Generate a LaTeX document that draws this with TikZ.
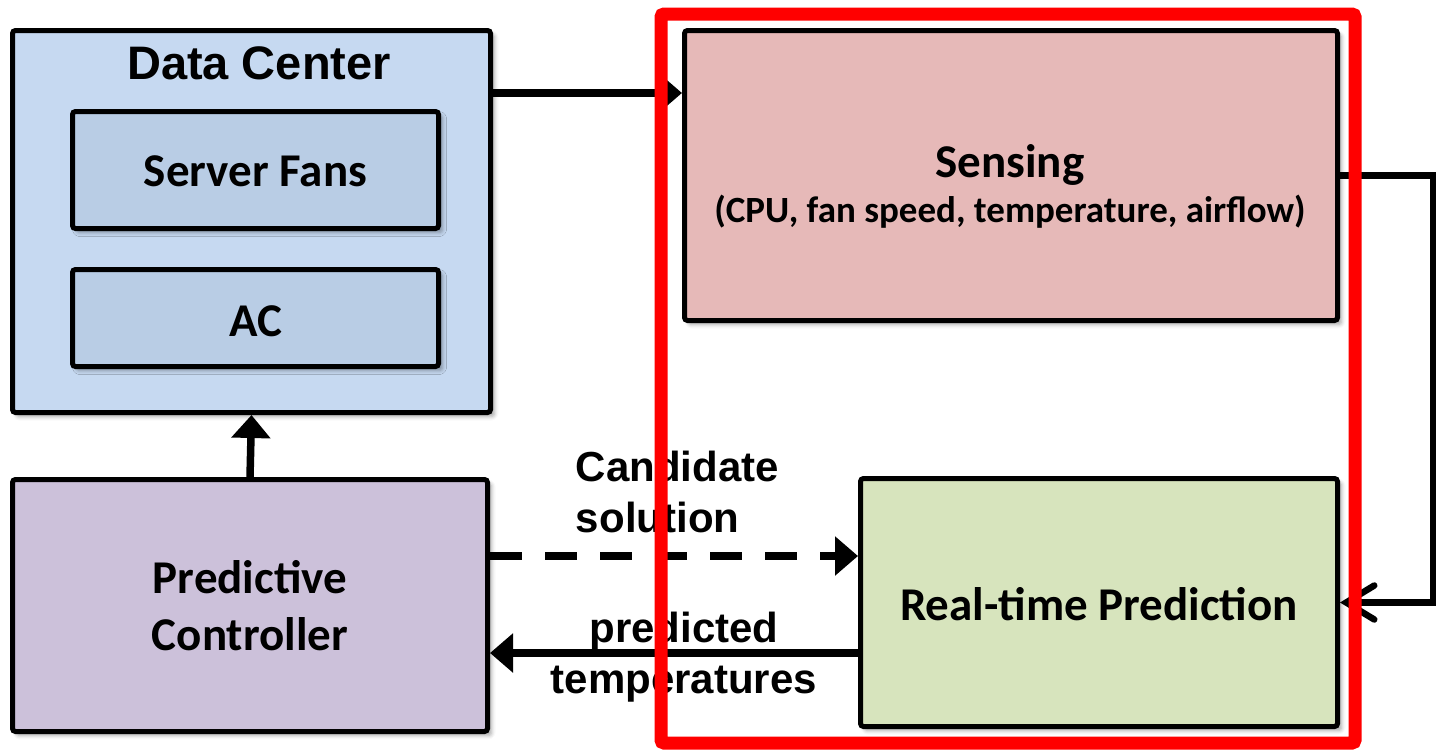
\documentclass[tikz,border=0pt]{standalone}
\usepackage{fontspec}
\newfontfamily\calibri{Carlito}
\newfontfamily\arialf{Liberation Sans}
\usetikzlibrary{arrows.meta,shadows.blur}
\definecolor{dcblue}{HTML}{C6D9F1}
\definecolor{unitblue}{HTML}{B9CDE5}
\definecolor{ctrlpurple}{HTML}{CCC1DA}
\definecolor{senserose}{HTML}{E6B9B8}
\definecolor{predgreen}{HTML}{D7E4BD}
\definecolor{focusred}{HTML}{FF0000}
\begin{document}
\begin{tikzpicture}[x=1pt,y=-1pt,
  box/.style={draw=black, line width=5pt, rounded corners=3pt, inner sep=0pt,
    align=center, font={\calibri\bfseries\fontsize{47}{57}\selectfont},
    blur shadow={shadow xshift=4pt, shadow yshift=-4pt, shadow blur radius=4pt, shadow opacity=35}},
  boxtext/.style={inner sep=0pt, anchor=base, font={\calibri\bfseries\fontsize{47}{57}\selectfont}},
  flow/.style={line width=7.5pt, -{Triangle[length=23pt,width=38pt]}},
  feedback/.style={line width=6.5pt, -{Straight Barb[length=28pt,width=34pt,line cap=round]}},
  edgelabel/.style={inner sep=0pt, font={\arialf\bfseries\fontsize{42}{51}\selectfont}}
]
\useasboundingbox (0,0) rectangle (1437,750);

% data center with its two actuators
\node[box, fill=dcblue, minimum width=478pt, minimum height=382pt] (dc) at (251.5,221.5) {};
\node[inner sep=0pt, font={\arialf\bfseries\fontsize{47}{56}\selectfont}] (dctitle) at (259,63) {Data Center};
\node[box, fill=unitblue, minimum width=366pt, minimum height=117pt] (fans) at (255.5,170) {};
\node[boxtext] (fanstext) at (255.5,186) {Server Fans};
\node[box, fill=unitblue, minimum width=366pt, minimum height=97pt] (ac) at (255.5,318) {};
\node[boxtext] (actext) at (255.5,336) {AC};

% controller, sensing and prediction blocks
\node[box, fill=ctrlpurple, minimum width=475pt, minimum height=252pt] (ctrl) at (250,605.5) {Predictive\\Controller};
\node[box, fill=senserose, minimum width=653pt, minimum height=290pt] (sense) at (1011,175.5) {};
\node[boxtext] (sensetitle) at (1010,177) {Sensing};
\node[boxtext, font={\calibri\bfseries\fontsize{37}{44}\selectfont}] (sensevars) at (1010,222)
  {(CPU, fan speed, temperature, airflow)};
\node[box, fill=predgreen, minimum width=477pt, minimum height=248pt] (pred) at (1099,602.5) {};
\node[boxtext] (predtext) at (1099,620) {Real-time Prediction};

% connectors
\draw[flow] (ctrl.north) -- (dc.south);
\draw[flow] (dc.east |- 0,93) -- (sense.west |- 0,93);
\draw[flow, dash pattern=on 32pt off 23pt] (ctrl.east |- 0,556) -- (pred.west |- 0,556);
\draw[flow] (pred.west |- 0,653) -- (ctrl.east |- 0,653);
\coordinate (loop) at (1433,400);
\draw[feedback] (sense.east) -| (loop) |- (pred.east);

% edge labels
\node[edgelabel, align=left] (cand) at (677.5,492) {Candidate\\solution};
\node[edgelabel, align=center] (temps) at (684,657) {predicted\\temperatures};

% highlighted region
\node[draw=focusred, line width=13pt, rounded corners=3pt, inner sep=0pt,
  minimum width=694pt, minimum height=729pt] (focus) at (1008,378.5) {};
\end{tikzpicture}
\end{document}
